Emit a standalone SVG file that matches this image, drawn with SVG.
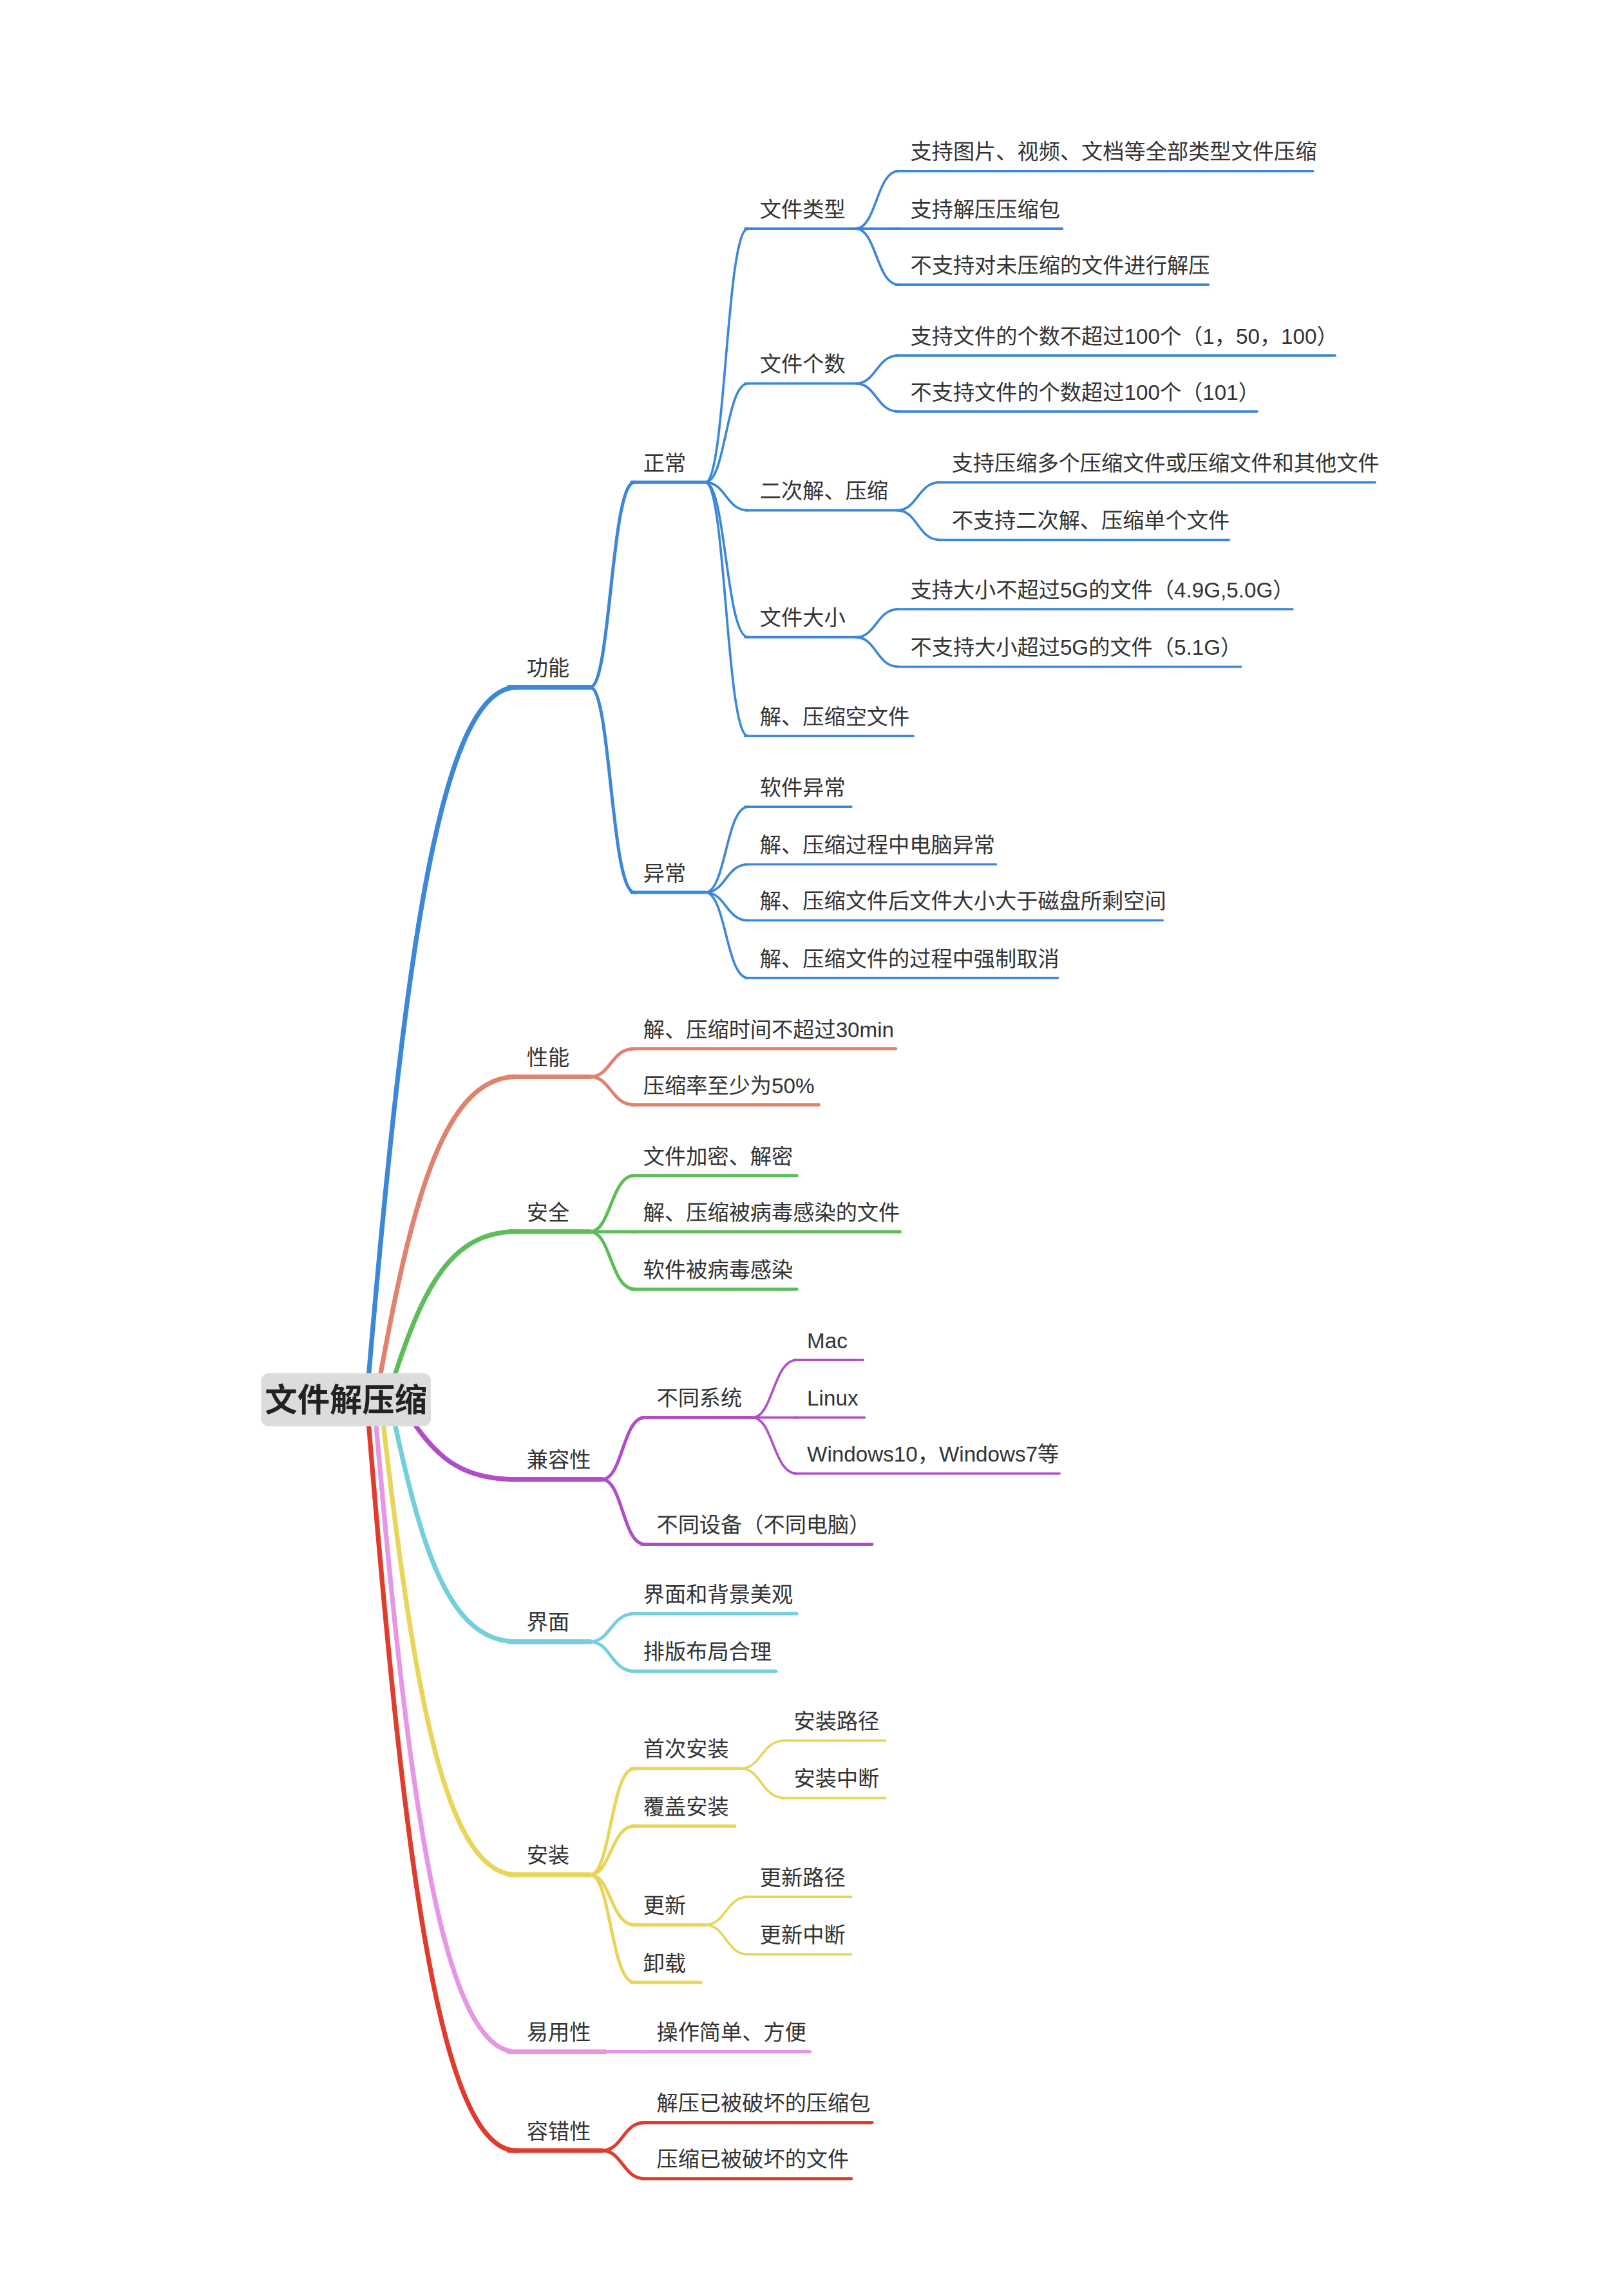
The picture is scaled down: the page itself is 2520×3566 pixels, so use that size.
<svg xmlns="http://www.w3.org/2000/svg" width="2520" height="3566" viewBox="0 0 2520 3566">
<style>
text{font-family:"Liberation Sans","Noto Sans CJK SC",sans-serif;font-size:14.5px;fill:#333}
.root{font-size:22px;font-weight:bold;fill:#222}
path,line{fill:none;stroke-linecap:round}
.b{stroke:#3b87d9}.o{stroke:#e0826e}.g{stroke:#5dbd5a}.p{stroke:#b04ec8}.c{stroke:#74cfdc}.y{stroke:#e8d55a}.k{stroke:#e597e6}.r{stroke:#e03c2e}
.w1{stroke-width:3.2}.w2{stroke-width:2.2}.w3{stroke-width:1.6}
</style>
<rect width="2520" height="3566" fill="#fff"/>
<g transform="scale(2.2909)">
<g id="connectors">
<path class="b w1" d="M250 931C274 652 298 466 350 466"/>
<path class="o w1" d="M258 931C280 810 302 730 350 730"/>
<path class="g w1" d="M268 931C287 873 306 835 350 835"/>
<path class="p w1" d="M282 967C298 989 314 1003 350 1003"/>
<path class="c w1" d="M268 967C287 1055 306 1113 350 1113"/>
<path class="y w1" d="M260 967C281 1149 302 1271 350 1271"/>
<path class="k w1" d="M255 967C277 1221 300 1391 350 1391"/>
<path class="r w1" d="M250 967C274 1262 298 1458 350 1458"/>
<path class="b w2" d="M400 466C414 466 414 327 430 327"/>
<path class="b w2" d="M400 466C414 466 414 605 430 605"/>
<path class="b w3" d="M478 327C492 327 492 155 507 155"/>
<path class="b w3" d="M478 327C492 327 492 260 507 260"/>
<path class="b w3" d="M478 327C492 327 492 346 507 346"/>
<path class="b w3" d="M478 327C492 327 492 432 507 432"/>
<path class="b w3" d="M478 327C492 327 492 499 507 499"/>
<path class="b w3" d="M580 155C594 155 594 116 609 116"/>
<path class="b w3" d="M580 155L609 155"/>
<path class="b w3" d="M580 155C594 155 594 193 609 193"/>
<path class="b w3" d="M580 260C594 260 594 241 609 241"/>
<path class="b w3" d="M580 260C594 260 594 279 609 279"/>
<path class="b w3" d="M608 346C622 346 622 327 637 327"/>
<path class="b w3" d="M608 346C622 346 622 366 637 366"/>
<path class="b w3" d="M580 432C594 432 594 413 609 413"/>
<path class="b w3" d="M580 432C594 432 594 452 609 452"/>
<path class="b w3" d="M478 605C492 605 492 547 507 547"/>
<path class="b w3" d="M478 605C492 605 492 586 507 586"/>
<path class="b w3" d="M478 605C492 605 492 624 507 624"/>
<path class="b w3" d="M478 605C492 605 492 663 507 663"/>
<path class="o w2" d="M400 730C414 730 414 711 430 711"/>
<path class="o w2" d="M400 730C414 730 414 749 430 749"/>
<path class="g w2" d="M400 835C414 835 414 797 430 797"/>
<path class="g w2" d="M400 835L430 835"/>
<path class="g w2" d="M400 835C414 835 414 874 430 874"/>
<path class="p w2" d="M408 1003C422 1003 422 961 437 961"/>
<path class="p w2" d="M408 1003C422 1003 422 1047 437 1047"/>
<path class="p w3" d="M510 961C524 961 524 922 540 922"/>
<path class="p w3" d="M510 961L540 961"/>
<path class="p w3" d="M510 961C524 961 524 999 540 999"/>
<path class="c w2" d="M400 1113C414 1113 414 1094 430 1094"/>
<path class="c w2" d="M400 1113C414 1113 414 1133 430 1133"/>
<path class="y w2" d="M400 1271C414 1271 414 1199 430 1199"/>
<path class="y w2" d="M400 1271C414 1271 414 1238 430 1238"/>
<path class="y w2" d="M400 1271C414 1271 414 1305 430 1305"/>
<path class="y w2" d="M400 1271C414 1271 414 1344 430 1344"/>
<path class="y w3" d="M502 1199C516 1199 516 1180 532 1180"/>
<path class="y w3" d="M502 1199C516 1199 516 1219 532 1219"/>
<path class="y w3" d="M478 1305C492 1305 492 1286 507 1286"/>
<path class="y w3" d="M478 1305C492 1305 492 1325 507 1325"/>
<path class="k w2" d="M410 1391L437 1391"/>
<path class="r w2" d="M408 1458C422 1458 422 1439 437 1439"/>
<path class="r w2" d="M408 1458C422 1458 422 1477 437 1477"/>
</g>
<g id="root"><rect x="177" y="931" width="115" height="36" rx="5" fill="#dcdcdc"/><text class="root" x="234.5" y="957" text-anchor="middle">文件解压缩</text></g>
<g id="n-gongneng"><path class="b w1" d="M345 466H400"/><text x="357" y="458">功能</text></g>
<g id="n-zhengchang"><path class="b w2" d="M428 327H478"/><text x="436" y="319">正常</text></g>
<g id="n-yichang"><path class="b w2" d="M428 605H478"/><text x="436" y="597">异常</text></g>
<g id="n-lx"><path class="b w3" d="M505 155H580"/><text x="515" y="147">文件类型</text></g>
<g id="n-lx1"><path class="b w3" d="M607 116H890"/><text x="617" y="108">支持图片、视频、文档等全部类型文件压缩</text></g>
<g id="n-lx2"><path class="b w3" d="M607 155H720"/><text x="617" y="147">支持解压压缩包</text></g>
<g id="n-lx3"><path class="b w3" d="M607 193H819"/><text x="617" y="185">不支持对未压缩的文件进行解压</text></g>
<g id="n-gs"><path class="b w3" d="M505 260H580"/><text x="515" y="252">文件个数</text></g>
<g id="n-gs1"><path class="b w3" d="M607 241H905"/><text x="617" y="233">支持文件的个数不超过100个（1，50，100）</text></g>
<g id="n-gs2"><path class="b w3" d="M607 279H852"/><text x="617" y="271">不支持文件的个数超过100个（101）</text></g>
<g id="n-ec"><path class="b w3" d="M505 346H608"/><text x="515" y="338">二次解、压缩</text></g>
<g id="n-ec1"><path class="b w3" d="M635 327H932"/><text x="645" y="319">支持压缩多个压缩文件或压缩文件和其他文件</text></g>
<g id="n-ec2"><path class="b w3" d="M635 366H833"/><text x="645" y="358">不支持二次解、压缩单个文件</text></g>
<g id="n-dx"><path class="b w3" d="M505 432H580"/><text x="515" y="424">文件大小</text></g>
<g id="n-dx1"><path class="b w3" d="M607 413H876"/><text x="617" y="405">支持大小不超过5G的文件（4.9G,5.0G）</text></g>
<g id="n-dx2"><path class="b w3" d="M607 452H841"/><text x="617" y="444">不支持大小超过5G的文件（5.1G）</text></g>
<g id="n-kong"><path class="b w3" d="M505 499H619"/><text x="515" y="491">解、压缩空文件</text></g>
<g id="n-yc1"><path class="b w3" d="M505 547H577"/><text x="515" y="539">软件异常</text></g>
<g id="n-yc2"><path class="b w3" d="M505 586H675"/><text x="515" y="578">解、压缩过程中电脑异常</text></g>
<g id="n-yc3"><path class="b w3" d="M505 624H788"/><text x="515" y="616">解、压缩文件后文件大小大于磁盘所剩空间</text></g>
<g id="n-yc4"><path class="b w3" d="M505 663H717"/><text x="515" y="655">解、压缩文件的过程中强制取消</text></g>
<g id="n-xingneng"><path class="o w1" d="M345 730H400"/><text x="357" y="722">性能</text></g>
<g id="n-xn1"><path class="o w2" d="M428 711H607"/><text x="436" y="703">解、压缩时间不超过30min</text></g>
<g id="n-xn2"><path class="o w2" d="M428 749H555"/><text x="436" y="741">压缩率至少为50%</text></g>
<g id="n-anquan"><path class="g w1" d="M345 835H400"/><text x="357" y="827">安全</text></g>
<g id="n-aq1"><path class="g w2" d="M428 797H540"/><text x="436" y="789">文件加密、解密</text></g>
<g id="n-aq2"><path class="g w2" d="M428 835H610"/><text x="436" y="827">解、压缩被病毒感染的文件</text></g>
<g id="n-aq3"><path class="g w2" d="M428 874H540"/><text x="436" y="866">软件被病毒感染</text></g>
<g id="n-jrx"><path class="p w1" d="M345 1003H408"/><text x="357" y="995">兼容性</text></g>
<g id="n-xt"><path class="p w2" d="M435 961H510"/><text x="445" y="953">不同系统</text></g>
<g id="n-mac"><path class="p w3" d="M538 922H585"/><text x="547" y="914">Mac</text></g>
<g id="n-linux"><path class="p w3" d="M538 961H586"/><text x="547" y="953">Linux</text></g>
<g id="n-win"><path class="p w3" d="M538 999H718"/><text x="547" y="991">Windows10，Windows7等</text></g>
<g id="n-sb"><path class="p w2" d="M435 1047H591"/><text x="445" y="1039">不同设备（不同电脑）</text></g>
<g id="n-jiemian"><path class="c w1" d="M345 1113H400"/><text x="357" y="1105">界面</text></g>
<g id="n-jm1"><path class="c w2" d="M428 1094H540"/><text x="436" y="1086">界面和背景美观</text></g>
<g id="n-jm2"><path class="c w2" d="M428 1133H526"/><text x="436" y="1125">排版布局合理</text></g>
<g id="n-anzhuang"><path class="y w1" d="M345 1271H400"/><text x="357" y="1263">安装</text></g>
<g id="n-sc"><path class="y w2" d="M428 1199H502"/><text x="436" y="1191">首次安装</text></g>
<g id="n-sc1"><path class="y w3" d="M530 1180H600"/><text x="538" y="1172">安装路径</text></g>
<g id="n-sc2"><path class="y w3" d="M530 1219H600"/><text x="538" y="1211">安装中断</text></g>
<g id="n-fg"><path class="y w2" d="M428 1238H498"/><text x="436" y="1230">覆盖安装</text></g>
<g id="n-gx"><path class="y w2" d="M428 1305H478"/><text x="436" y="1297">更新</text></g>
<g id="n-gx1"><path class="y w3" d="M505 1286H577"/><text x="515" y="1278">更新路径</text></g>
<g id="n-gx2"><path class="y w3" d="M505 1325H577"/><text x="515" y="1317">更新中断</text></g>
<g id="n-xz"><path class="y w2" d="M428 1344H475"/><text x="436" y="1336">卸载</text></g>
<g id="n-yyx"><path class="k w1" d="M345 1391H410"/><text x="357" y="1383">易用性</text></g>
<g id="n-yy1"><path class="k w2" d="M435 1391H549"/><text x="445" y="1383">操作简单、方便</text></g>
<g id="n-rcx"><path class="r w1" d="M345 1458H408"/><text x="357" y="1450">容错性</text></g>
<g id="n-rc1"><path class="r w2" d="M435 1439H591"/><text x="445" y="1431">解压已被破坏的压缩包</text></g>
<g id="n-rc2"><path class="r w2" d="M435 1477H577"/><text x="445" y="1469">压缩已被破坏的文件</text></g>
</g>
</svg>
